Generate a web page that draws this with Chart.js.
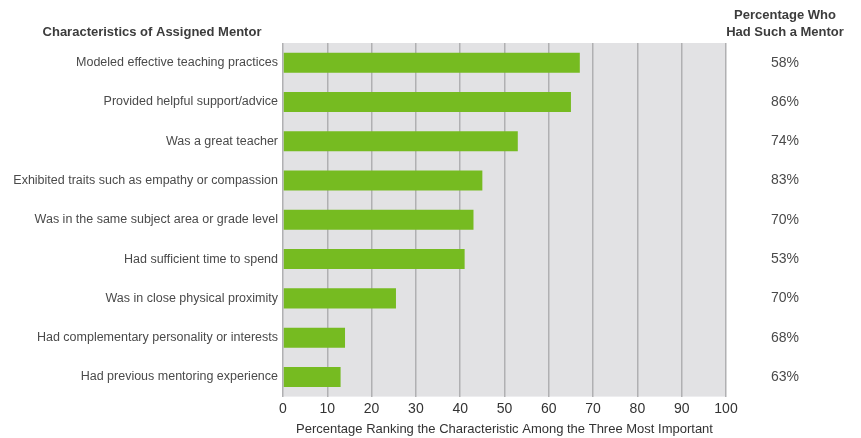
<!DOCTYPE html>
<html>
<head>
<meta charset="utf-8">
<script src="https://cdn.jsdelivr.net/npm/chart.js@4"></script>
<style>
    html, body { margin: 0; padding: 0; background: #fff; }
    #wrap { position: relative; width: 861px; height: 438px; }
</style>
</head>
<body>
<div id="wrap"><canvas id="mentorChart"></canvas></div>
<script>
// 数据
const characteristics = [
    'Modeled effective teaching practices',
    'Provided helpful support/advice',
    'Was a great teacher',
    'Exhibited traits such as empathy or compassion',
    'Was in the same subject area or grade level',
    'Had sufficient time to spend',
    'Was in close physical proximity',
    'Had complementary personality or interests',
    'Had previous mentoring experience'
];
const rankingPct = [67, 65, 53, 45, 43, 41, 25.5, 14, 13];
const hadMentorPct = ['58%', '86%', '74%', '83%', '70%', '53%', '70%', '68%', '63%'];
const xTicks = [0, 10, 20, 30, 40, 50, 60, 70, 80, 90, 100];

const FONT = '"Liberation Sans", Arial, sans-serif';

// 背景、表头和右侧百分比列
const decorPlugin = {
    id: 'decor',
    beforeDraw(chart) {
        const { ctx, chartArea: a } = chart;
        ctx.save();
        ctx.fillStyle = '#e2e2e4';
        ctx.fillRect(a.left, a.top, a.right - a.left, a.bottom - a.top);
        ctx.restore();
    },
    afterDraw(chart) {
        const ctx = chart.ctx;
        const yScale = chart.scales.y;
        ctx.save();
        ctx.fillStyle = '#3c3c3c';
        ctx.font = 'bold 13px ' + FONT;
        ctx.textBaseline = 'middle';
        ctx.textAlign = 'center';
        ctx.fillText('Characteristics of Assigned Mentor', 152, 32);
        ctx.fillText('Percentage Who', 785, 15);
        ctx.fillText('Had Such a Mentor', 785, 32);

        // 右侧列：有此类导师的比例
        ctx.fillStyle = '#4a4a4a';
        ctx.font = '14px ' + FONT;
        hadMentorPct.forEach((txt, i) => {
            ctx.fillText(txt, 785, yScale.getPixelForValue(i));
        });
        ctx.restore();
    }
};

const ctx = document.getElementById('mentorChart').getContext('2d');
new Chart(ctx, {
    type: 'bar',
    data: {
        labels: characteristics,
        datasets: [{
            data: rankingPct,
            backgroundColor: '#76bb21',
            borderWidth: 0,
            categoryPercentage: 1,
            barPercentage: 0.51
        }]
    },
    options: {
        indexAxis: 'y',
        responsive: true,
        maintainAspectRatio: false,
        animation: false,
        layout: { padding: { top: 43, right: 135, bottom: 0, left: 0 } },
        plugins: {
            legend: { display: false },
            tooltip: { enabled: false }
        },
        scales: {
            x: {
                min: 0,
                max: 100,
                afterBuildTicks(axis) { axis.ticks = xTicks.map(v => ({ value: v })); },
                grid: { color: '#b0b0b2', lineWidth: 1.5, drawTicks: false },
                border: { display: false },
                ticks: { color: '#333', font: { family: FONT, size: 14 }, padding: 4 },
                title: {
                    display: true,
                    text: 'Percentage Ranking the Characteristic Among the Three Most Important',
                    color: '#333',
                    font: { family: FONT, size: 13 },
                    padding: { top: 0, bottom: 1 }
                }
            },
            y: {
                grid: { display: false },
                border: { display: false },
                ticks: { color: '#4a4a4a', font: { family: FONT, size: 12.5 }, padding: -3 },
                afterFit(axis) { axis.width = 283; }
            }
        }
    },
    plugins: [decorPlugin]
});
</script>
</body>
</html>
